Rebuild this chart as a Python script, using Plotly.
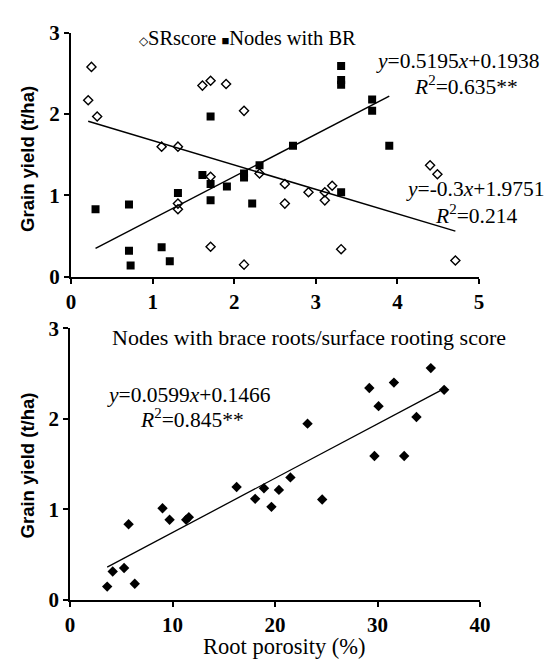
import numpy as np
import plotly.graph_objects as go

# ---- Top panel data ----
sr_x = [0.21, 0.25, 0.32, 1.11, 1.31, 1.31, 1.31, 1.61, 1.71, 1.90, 1.71, 1.71, 2.12, 2.12, 2.31,
        2.62, 2.62, 2.91, 3.11, 3.11, 3.20, 3.31, 4.40, 4.49, 4.71]
sr_y = [2.17, 2.58, 1.97, 1.60, 1.60, 0.90, 0.83, 2.35, 2.41, 2.37, 1.23, 0.37, 2.04, 0.15, 1.27,
        1.14, 0.90, 1.04, 1.04, 0.94, 1.12, 0.34, 1.37, 1.26, 0.20]

br_x = [0.30, 0.71, 0.71, 0.73, 1.11, 1.21, 1.31, 1.61, 1.71, 1.71, 1.71, 1.91, 2.12, 2.12, 2.22, 2.31,
        2.72, 3.31, 3.31, 3.31, 3.31, 3.69, 3.69, 3.90]
br_y = [0.83, 0.89, 0.32, 0.14, 0.365, 0.19, 1.03, 1.25, 1.14, 0.94, 1.97, 1.11, 1.27, 1.22, 0.90, 1.37,
        1.61, 2.59, 2.42, 2.36, 1.04, 2.18, 2.04, 1.61]

# regression coefficients (as printed)
br_fit = (0.5195, 0.1938)
sr_fit = (-0.3, 1.9751)

# ---- Bottom panel data ----
por_x = [3.62, 4.16, 5.27, 6.31, 5.71, 9.02, 9.71, 11.33, 11.59, 16.25, 18.06, 18.92, 19.65, 20.38,
         21.5, 24.6, 23.17, 29.2, 30.1, 31.6, 29.7, 32.6, 33.8, 35.2, 36.5]
por_y = [0.149, 0.316, 0.354, 0.18, 0.837, 1.014, 0.886, 0.886, 0.915, 1.248, 1.117, 1.234, 1.029, 1.216,
         1.354, 1.11, 1.947, 2.34, 2.14, 2.40, 1.59, 1.59, 2.02, 2.56, 2.32]
por_fit = (0.0599, 0.1466)

top_xticks = [0, 1, 2, 3, 4, 5]
bot_xticks = [0, 10, 20, 30, 40]
yticks = [0, 1, 2, 3]

W, H = 559, 668
def px(x):
    return x / W
def py(y):
    return 1 - y / H

SERIF = "Liberation Serif"
SANS = "Liberation Sans"

fig = go.Figure()

# Top panel
fig.add_trace(go.Scatter(x=sr_x, y=sr_y, mode="markers", xaxis="x", yaxis="y",
                         marker=dict(symbol="diamond-open", size=7, color="black", line=dict(width=1.4)),
                         showlegend=False))
fig.add_trace(go.Scatter(x=br_x, y=br_y, mode="markers", xaxis="x", yaxis="y",
                         marker=dict(symbol="square", size=8, color="black"),
                         showlegend=False))
lx = np.array([min(br_x), max(br_x)])
fig.add_trace(go.Scatter(x=lx, y=br_fit[0] * lx + br_fit[1], mode="lines", xaxis="x", yaxis="y",
                         line=dict(color="black", width=1.5), showlegend=False))
lx2 = np.array([min(sr_x), max(sr_x)])
fig.add_trace(go.Scatter(x=lx2, y=sr_fit[0] * lx2 + sr_fit[1], mode="lines", xaxis="x", yaxis="y",
                         line=dict(color="black", width=1.5), showlegend=False))

# Bottom panel
fig.add_trace(go.Scatter(x=por_x, y=por_y, mode="markers", xaxis="x2", yaxis="y2",
                         marker=dict(symbol="diamond", size=8, color="black"),
                         showlegend=False))
lx3 = np.array([min(por_x), max(por_x)])
fig.add_trace(go.Scatter(x=lx3, y=por_fit[0] * lx3 + por_fit[1], mode="lines", xaxis="x2", yaxis="y2",
                         line=dict(color="black", width=1.3), showlegend=False))

axis_common = dict(showline=True, linecolor="black", linewidth=2, ticks="outside", ticklen=5,
                   tickwidth=2, tickcolor="black", showgrid=False, zeroline=False,
                   tickfont=dict(family=SERIF, size=21, color="black", weight="bold"))

fig.update_layout(
    width=W, height=H, margin=dict(l=0, r=0, t=0, b=0),
    paper_bgcolor="white", plot_bgcolor="white",
    xaxis=dict(domain=[px(68), px(488)], range=[0, 5], tickvals=top_xticks, anchor="y", **axis_common),
    yaxis=dict(domain=[py(274.7), py(21.5)], range=[0, 3], tickvals=yticks, anchor="x", **axis_common),
    xaxis2=dict(domain=[px(67), px(489)], range=[0, 40], tickvals=bot_xticks, anchor="y2", **axis_common),
    yaxis2=dict(domain=[py(610), py(328)], range=[0, 3], tickvals=yticks, anchor="x2", **axis_common),
)

ann = []
def add(text, x, y, size=19, family=SERIF, xanchor="center", textangle=0, weight="normal"):
    ann.append(dict(text=text, x=px(x), y=py(y), xref="paper", yref="paper", showarrow=False,
                    xanchor=xanchor, yanchor="middle", textangle=textangle,
                    font=dict(family=family, size=size, color="black", weight=weight)))

add("<span style='font-size:12px'>◇</span>SRscore <span style='font-size:13px'>■</span>Nodes with BR",
    250, 27, size=20.5)
add("<i>y</i>=0.5195<i>x</i>+0.1938", 466, 51, size=21.5)
add("<i>R</i><sup>2</sup>=0.635**", 475, 76, size=21.5)
add("<i>y</i>=-0.3<i>x</i>+1.9751", 484, 184, size=21.5)
add("<i>R</i><sup>2</sup>=0.214", 485, 210, size=21.5)
add("Nodes with brace roots/surface rooting score", 313, 338, size=22)
add("<i>y</i>=0.0599<i>x</i>+0.1466", 189, 397, size=21.5)
add("<i>R</i><sup>2</sup>=0.845**", 193, 422, size=21.5)
add("Root porosity (%)", 288, 658, size=22.5)
add("Grain yield (t/ha)", 23, 152, size=18.5, family=SANS, textangle=-90, weight="bold")
add("Grain yield (t/ha)", 23, 470, size=18.5, family=SANS, textangle=-90, weight="bold")
fig.update_layout(annotations=ann)

fig.write_html("out.html")
